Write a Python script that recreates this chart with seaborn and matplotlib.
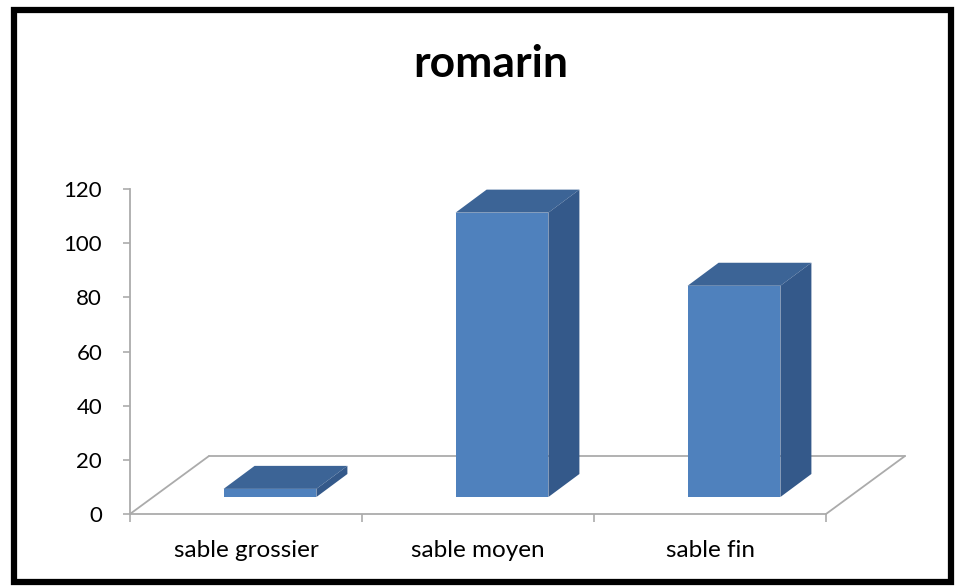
import matplotlib
matplotlib.use("Agg")
import matplotlib.pyplot as plt
import matplotlib.transforms as mtransforms
from matplotlib.patches import Polygon, Rectangle
from matplotlib.lines import Line2D
import seaborn as sns
import pandas as pd

# ---- data ----
categories = ["sable grossier", "sable moyen", "sable fin"]
values = [3, 105, 78]
yticks = [0, 20, 40, 60, 80, 100, 120]
title = "romarin"

sns.set_theme(style="white")
plt.rcParams["font.family"] = ["Lato", "DejaVu Sans"]
plt.rcParams["text.color"] = "black"

W, H, DPI = 963, 586, 100
fig = plt.figure(figsize=(W / DPI, H / DPI), dpi=DPI)
ax = fig.add_axes([130 / W, (H - 514) / H, (826 - 130) / W, (514 - 189) / H])

df = pd.DataFrame({"cat": categories, "val": values})
sns.barplot(data=df, x="cat", y="val", ax=ax, width=0.4, color="#4F81BD",
            saturation=1, edgecolor="none", zorder=3)

ax.set_xlim(-0.5, 2.5)
ax.set_ylim(0, 120)

# pixel offsets (display, y up)
floor_dx, floor_dy = 79, 58
front_dx, front_dy = 24, 17
depth_dx, depth_dy = 31, 23

def off(dx, dy):
    return ax.transData + mtransforms.ScaledTranslation(dx / DPI, dy / DPI, fig.dpi_scale_trans)

# floor parallelogram
grey = "#ABABAB"
ax.add_line(Line2D([-0.5, 2.5], [0, 0], color=grey, lw=1.3, transform=ax.transData, clip_on=False, zorder=1))
ax.add_line(Line2D([-0.5, 2.5], [0, 0], color=grey, lw=1.3, transform=off(floor_dx, floor_dy), clip_on=False, zorder=1))
for xe in (-0.5, 2.5):
    x0, y0 = ax.transData.transform((xe, 0))
    fig.add_artist(Line2D([x0, x0 + floor_dx], [y0, y0 + floor_dy], color=grey, lw=1.3,
                          transform=None, zorder=1))

# 3D faces for each bar
top_col = "#3C6496"
side_col = "#34598A"
for p in list(ax.patches):
    x0 = p.get_x(); w = p.get_width(); h = p.get_height()
    p.set_transform(off(front_dx, front_dy))
    t = ax.transData
    (ax0, ay0) = t.transform((x0, 0))
    (ax1, ay1) = t.transform((x0 + w, h))
    fx0, fy0 = ax0 + front_dx, ay0 + front_dy
    fx1, fy1 = ax1 + front_dx, ay1 + front_dy
    top = Polygon([(fx0, fy1), (fx1, fy1), (fx1 + depth_dx, fy1 + depth_dy), (fx0 + depth_dx, fy1 + depth_dy)],
                  closed=True, facecolor=top_col, edgecolor="none", transform=None, zorder=4)
    side = Polygon([(fx1, fy0), (fx1, fy1), (fx1 + depth_dx, fy1 + depth_dy), (fx1 + depth_dx, fy0 + depth_dy)],
                   closed=True, facecolor=side_col, edgecolor="none", transform=None, zorder=4)
    fig.add_artist(top)
    fig.add_artist(side)

# axes styling
for s in ["top", "right", "bottom"]:
    ax.spines[s].set_visible(False)
ax.spines["left"].set_color(grey)
ax.spines["left"].set_linewidth(1.3)
ax.set_yticks(yticks)
ax.set_yticklabels([str(v) for v in yticks])
ax.tick_params(axis="y", length=5, width=1.2, color=grey, direction="out", labelsize=16,
               labelcolor="black", pad=15, left=True)
ax.set_xticks(range(len(categories)))
ax.set_xticklabels(categories)
ax.tick_params(axis="x", length=0, labelsize=17.5, labelcolor="black", pad=19)
ax.set_xticks([-0.5, 0.5, 1.5, 2.5], minor=True)
ax.tick_params(axis="x", which="minor", length=6, width=1.2, color=grey, direction="out", bottom=True)
ax.set_xlabel("")
ax.set_ylabel("")
ax.patch.set_alpha(0)

fig.text(491 / W, 1 - 77 / H, title, ha="center", va="baseline", fontsize=32, fontweight="bold",
         color="black")

# outer frame
fig.add_artist(Rectangle((14 / W, 4 / H), (951 - 14) / W, (580 - 8) / H, transform=fig.transFigure,
                         fill=False, edgecolor="black", lw=4.5))

fig.savefig("out.png", dpi=DPI)
